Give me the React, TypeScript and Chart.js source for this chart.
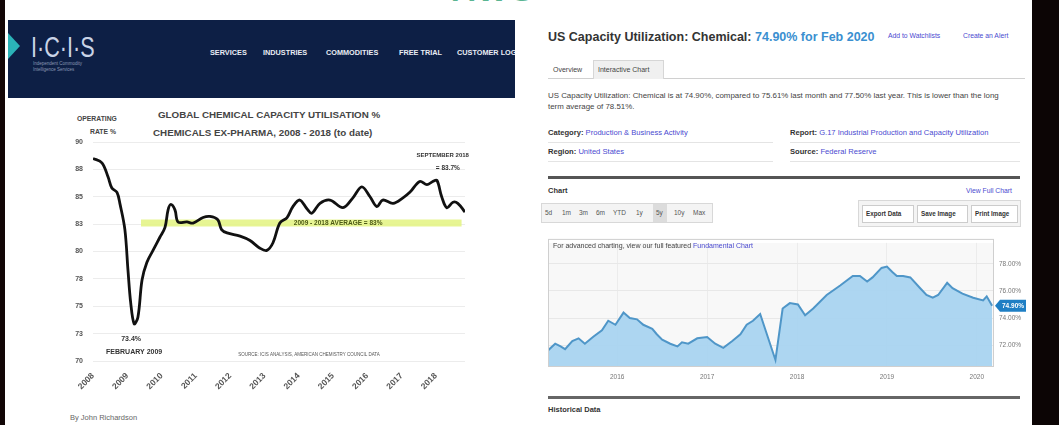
import React, { useEffect, useRef } from "react";
import { Chart, registerables } from "chart.js";

Chart.register(...registerables);
Chart.defaults.font.family = "'Liberation Sans', Arial, sans-serif";

// ---------- Left chart (ICIS) data ----------
const leftYears = [
  2008.0, 2008.26, 2008.44, 2008.55, 2008.7, 2008.79, 2008.93, 2009.02, 2009.1, 2009.2,
  2009.31, 2009.43, 2009.57, 2009.75, 2009.95, 2010.1, 2010.19, 2010.27, 2010.39, 2010.48,
  2010.74, 2010.92, 2011.21, 2011.41, 2011.64, 2011.75, 2011.91, 2012.29, 2012.58, 2012.87,
  2013.07, 2013.25, 2013.45, 2013.66, 2013.83, 2014.03, 2014.24, 2014.38, 2014.62, 2014.91,
  2015.29, 2015.58, 2015.84, 2016.08, 2016.28, 2016.45, 2016.75, 2017.04, 2017.24, 2017.53,
  2017.74, 2017.91, 2018.03, 2018.17, 2018.32, 2018.5, 2018.64, 2018.85,
];
const leftRates = [
  88.5, 88.1, 86.8, 85.8, 85.4, 84.3, 82.0, 78.3, 75.3, 73.4,
  74.0, 77.4, 79.0, 80.1, 81.3, 82.2, 83.8, 84.3, 83.8, 82.7,
  82.7, 82.6, 83.1, 83.2, 82.9, 82.0, 81.7, 81.4, 81.0, 80.3,
  80.1, 80.8, 82.6, 83.1, 84.1, 84.7, 83.9, 83.5, 84.4, 84.7,
  84.0, 84.9, 85.9, 85.0, 84.1, 84.7, 84.4, 84.9, 85.4, 86.4,
  86.1, 86.4, 86.5, 85.0, 84.0, 84.5, 84.4, 83.6,
];
const leftYearLabels = ["2008", "2009", "2010", "2011", "2012", "2013", "2014", "2015", "2016", "2017", "2018"];
const leftYTickValues = [70, 72.5, 75, 77.5, 80, 82.5, 85, 87.5, 90];
const leftYTickLabels = ["70", "73", "75", "78", "80", "83", "85", "88", "90"];
const averageSpan = [2009.4, 2018.75];
const averageRate = 82.6;

// ---------- Right chart (US capacity utilization) data ----------
const rightYears = [
  2015.23, 2015.31, 2015.37, 2015.42, 2015.5, 2015.57, 2015.64, 2015.73, 2015.83, 2015.9,
  2015.98, 2016.07, 2016.14, 2016.22, 2016.29, 2016.39, 2016.44, 2016.5, 2016.59, 2016.67,
  2016.72, 2016.79, 2016.89, 2017.0, 2017.09, 2017.18, 2017.28, 2017.37, 2017.44, 2017.51,
  2017.59, 2017.76, 2017.84, 2017.92, 2018.01, 2018.09, 2018.18, 2018.33, 2018.48, 2018.62,
  2018.7, 2018.78, 2018.84, 2018.94, 2019.0, 2019.06, 2019.11, 2019.18, 2019.26, 2019.37,
  2019.44, 2019.51, 2019.57, 2019.67, 2019.73, 2019.84, 2019.96, 2020.07, 2020.11, 2020.17,
];
const rightValues = [
  71.6, 72.1, 71.9, 71.7, 72.3, 72.5, 72.1, 72.6, 73.1, 73.8,
  73.5, 74.4, 74.0, 73.9, 73.5, 73.2, 72.8, 72.4, 72.1, 71.9,
  72.2, 72.1, 72.5, 72.6, 72.1, 71.8, 72.3, 72.8, 73.5, 73.8,
  74.3, 70.9, 74.7, 75.1, 75.0, 74.2, 74.7, 75.7, 76.4, 77.1,
  77.1, 76.7, 77.0, 77.7, 77.8, 77.4, 77.1, 77.1, 77.0, 76.2,
  75.7, 75.5, 75.7, 76.6, 76.2, 75.8, 75.5, 75.3, 75.6, 74.9,
];
const rightYearLabels = ["2016", "2017", "2018", "2019", "2020"];
const rightYTickValues = [72, 74, 76, 78];
const latestLabel = "74.90%";

function LeftChart() {
  const ref = useRef<HTMLCanvasElement>(null);
  useEffect(() => {
    const annot = {
      id: "leftAnnot",
      afterDatasetsDraw(chart: any) {
        const { ctx, scales } = chart;
        const xs = scales.x, ys = scales.y;
        ctx.save();
        ctx.textAlign = "center";
        ctx.textBaseline = "middle";
        ctx.fillStyle = "#333";
        ctx.font = "bold 7px 'Liberation Sans', Arial";
        const mx = xs.getPixelForValue(2009.2), my = ys.getPixelForValue(73.4);
        ctx.fillText("73.4%", mx - 3, my + 15);
        ctx.fillText("FEBRUARY 2009", mx, my + 28);
        ctx.font = "bold 6px 'Liberation Sans', Arial";
        ctx.fillText("SEPTEMBER 2018", xs.getPixelForValue(2018.2), ys.getPixelForValue(88.8));
        ctx.font = "bold 6.5px 'Liberation Sans', Arial";
        ctx.fillText("= 83.7%", xs.getPixelForValue(2018.35), ys.getPixelForValue(87.6));
        ctx.font = "bold 6.5px 'Liberation Sans', Arial";
        ctx.fillStyle = "#4d5a16";
        ctx.fillText("2009 - 2018 AVERAGE = 83%", xs.getPixelForValue(2015.15), ys.getPixelForValue(averageRate));
        ctx.font = "4.5px 'Liberation Sans', Arial";
        ctx.fillStyle = "#555";
        ctx.fillText("SOURCE: ICIS ANALYSIS, AMERICAN CHEMISTRY COUNCIL DATA", xs.getPixelForValue(2014.3), ys.getPixelForValue(70.6));
        ctx.restore();
      },
    };
    const chart = new Chart(ref.current!, {
      type: "line",
      data: {
        datasets: [
          {
            data: averageSpan.map((x) => ({ x, y: averageRate })),
            borderColor: "rgba(228,244,135,0.9)",
            borderWidth: 7,
            pointRadius: 0,
            borderCapStyle: "butt",
            order: 2,
          },
          {
            data: leftYears.map((x, i) => ({ x, y: leftRates[i] })),
            borderColor: "#111",
            borderWidth: 2.8,
            pointRadius: 0,
            tension: 0.35,
            order: 1,
          },
        ],
      },
      options: {
        animation: false,
        responsive: false,
        devicePixelRatio: 1,
        layout: { padding: { left: 0, right: 15, top: 42, bottom: 0 } },
        plugins: { legend: { display: false }, tooltip: { enabled: false } },
        scales: {
          x: {
            type: "linear",
            min: 2008,
            max: 2018.85,
            grid: { display: false },
            border: { display: false },
            afterBuildTicks: (s: any) => {
              s.ticks = leftYearLabels.map((l) => ({ value: Number(l) }));
            },
            ticks: {
              autoSkip: false,
              minRotation: 45,
              maxRotation: 45,
              padding: 2,
              color: "#555",
              font: { size: 8.5, weight: "bold" },
              callback: (_v: any, i: number) => leftYearLabels[i],
            },
            afterFit: (s: any) => {
              s.height = 39;
            },
          },
          y: {
            type: "linear",
            min: 70,
            max: 90,
            border: { display: false },
            grid: { color: "#ececec", drawTicks: false },
            afterBuildTicks: (s: any) => {
              s.ticks = leftYTickValues.map((v) => ({ value: v }));
            },
            ticks: {
              padding: 10,
              color: "#555",
              font: { size: 7, weight: "bold" },
              callback: (_v: any, i: number) => leftYTickLabels[i],
            },
            afterFit: (s: any) => {
              s.width = 53;
            },
          },
        },
      },
      plugins: [annot],
    } as any);
    return () => chart.destroy();
  }, []);
  return (
    <canvas
      ref={ref}
      width={440}
      height={300}
      style={{ position: "absolute", left: 40, top: 100, width: 440, height: 300 }}
    />
  );
}

function RightChart() {
  const ref = useRef<HTMLCanvasElement>(null);
  useEffect(() => {
    const bg = {
      id: "rightBg",
      beforeDraw(chart: any) {
        const { ctx, chartArea: a } = chart;
        ctx.save();
        ctx.fillStyle = "#f8f8f8";
        ctx.fillRect(a.left, a.top, a.right - a.left, a.bottom - a.top);
        ctx.restore();
      },
      afterDraw(chart: any) {
        const { ctx, chartArea: a, scales } = chart;
        const y = scales.y.getPixelForValue(rightValues[rightValues.length - 1]);
        ctx.save();
        ctx.strokeStyle = "#cfcfcf";
        ctx.lineWidth = 1;
        ctx.strokeRect(a.left + 0.5, a.top - 3.5, a.right - a.left, a.bottom - a.top + 3);
        const x0 = a.right + 2;
        ctx.fillStyle = "#1f7fc4";
        ctx.beginPath();
        ctx.moveTo(x0, y);
        ctx.lineTo(x0 + 5, y - 6);
        ctx.lineTo(x0 + 31, y - 6);
        ctx.lineTo(x0 + 31, y + 6);
        ctx.lineTo(x0 + 5, y + 6);
        ctx.closePath();
        ctx.fill();
        ctx.fillStyle = "#fff";
        ctx.font = "bold 6.5px 'Liberation Sans', Arial";
        ctx.textAlign = "center";
        ctx.textBaseline = "middle";
        ctx.fillText(latestLabel, x0 + 18, y);
        ctx.restore();
      },
    };
    const chart = new Chart(ref.current!, {
      type: "line",
      data: {
        datasets: [
          {
            data: rightYears.map((x, i) => ({ x, y: rightValues[i] })),
            borderColor: "#4f96c8",
            backgroundColor: "rgba(166,210,240,0.92)",
            fill: "start",
            borderWidth: 2,
            pointRadius: 0,
            tension: 0,
          },
        ],
      },
      options: {
        animation: false,
        responsive: false,
        devicePixelRatio: 1,
        layout: { padding: { left: 0, right: 0, top: 4, bottom: 0 } },
        plugins: { legend: { display: false }, tooltip: { enabled: false } },
        scales: {
          x: {
            type: "linear",
            min: 2015.23,
            max: 2020.18,
            border: { display: false },
            grid: { color: "#ececec", drawTicks: false },
            afterBuildTicks: (s: any) => {
              s.ticks = rightYearLabels.map((l) => ({ value: Number(l) }));
            },
            ticks: {
              autoSkip: false,
              maxRotation: 0,
              padding: 6,
              color: "#777",
              font: { size: 6.5 },
              callback: (_v: any, i: number) => rightYearLabels[i],
            },
            afterFit: (s: any) => {
              s.height = 15;
            },
          },
          y: {
            type: "linear",
            position: "right",
            min: 70.38,
            max: 79.55,
            border: { display: false },
            grid: { color: "#e8e8e8", drawTicks: false },
            afterBuildTicks: (s: any) => {
              s.ticks = rightYTickValues.map((v) => ({ value: v }));
            },
            ticks: {
              padding: 6,
              color: "#777",
              font: { size: 6.5 },
              callback: (v: any) => Number(v).toFixed(2) + "%",
            },
            afterFit: (s: any) => {
              s.width = 39;
            },
          },
        },
      },
      plugins: [bg],
    } as any);
    return () => chart.destroy();
  }, []);
  return (
    <canvas
      ref={ref}
      width={484}
      height={149}
      style={{ position: "absolute", left: 548, top: 233, width: 484, height: 149 }}
    />
  );
}

const T = ({ x, y, s, children, style }: any) => (
  <div
    style={{
      position: "absolute",
      left: x,
      top: y - s * 0.6,
      fontSize: s,
      lineHeight: 1.2,
      whiteSpace: "nowrap",
      fontFamily: "'Liberation Sans', Arial, sans-serif",
      ...style,
    }}
  >
    {children}
  </div>
);

const box = (x: number, y: number, w: number, h: number, style: any) => (
  <div style={{ position: "absolute", left: x, top: y, width: w, height: h, boxSizing: "border-box", ...style }} />
);

export default function App() {
  const blue = "#4a4ad0";
  const navItems: [string, number][] = [
    ["SERVICES", 210],
    ["INDUSTRIES", 263],
    ["COMMODITIES", 326],
    ["FREE TRIAL", 399],
    ["CUSTOMER LOGIN", 457],
  ];
  const ranges: [string, number][] = [
    ["5d", 545],
    ["1m", 562],
    ["3m", 579],
    ["6m", 596],
    ["YTD", 613],
    ["1y", 636],
    ["5y", 656],
    ["10y", 674],
    ["Max", 693],
  ];
  return (
    <div
      style={{
        position: "fixed",
        left: 0,
        top: 0,
        width: 1059,
        height: 425,
        background: "#fff",
        overflow: "hidden",
        color: "#333",
      }}
    >
      {/* dark side strips */}
      {box(0, 0, 5, 425, { background: "#120606" })}
      {box(1032, 0, 27, 425, { background: "#0c0505" })}
      {/* partial big heading at top */}
      <div
        style={{
          position: "absolute",
          left: 452,
          top: -28,
          fontSize: 32,
          fontWeight: "bold",
          color: "#5bb592",
          fontFamily: "'Liberation Sans', Arial",
          letterSpacing: 4,
        }}
      >
        AWS
      </div>

      {/* ICIS header */}
      {box(8, 20, 507, 78, { background: "#0d1f45", overflow: "hidden" })}
      <div
        style={{
          position: "absolute",
          left: 8,
          top: 33,
          width: 0,
          height: 0,
          borderTop: "13px solid transparent",
          borderBottom: "13px solid transparent",
          borderLeft: "12px solid #2bb3b8",
        }}
      />
      <T x={31} y={47} s={30} style={{ color: "#c9d3e6", fontWeight: 300, transform: "scaleX(0.72)", transformOrigin: "left center" }}>
        I·C·I·S
      </T>
      <T x={33} y={64} s={4.5} style={{ color: "#8a98b4" }}>
        Independent Commodity
      </T>
      <T x={33} y={70} s={4.5} style={{ color: "#8a98b4" }}>
        Intelligence Services
      </T>
      <div style={{ position: "absolute", left: 8, top: 20, width: 507, height: 78, overflow: "hidden" }}>
        {navItems.map(([t, x]) => (
          <T key={t} x={x - 8} y={33} s={7.3} style={{ color: "#e8ecf4", fontWeight: "bold" }}>
            {t}
          </T>
        ))}
      </div>

      {/* Left chart titles */}
      <T x={158} y={115} s={9.8} style={{ fontWeight: "bold", color: "#444" }}>
        GLOBAL CHEMICAL CAPACITY UTILISATION %
      </T>
      <T x={153} y={133} s={9.8} style={{ fontWeight: "bold", color: "#444" }}>
        CHEMICALS EX-PHARMA, 2008 - 2018 (to date)
      </T>
      <T x={77} y={119} s={6.8} style={{ fontWeight: "bold", color: "#444" }}>
        OPERATING
      </T>
      <T x={90} y={132} s={6.8} style={{ fontWeight: "bold", color: "#444" }}>
        RATE %
      </T>
      <LeftChart />
      <T x={70} y={417} s={7.5} style={{ color: "#666" }}>
        By John Richardson
      </T>

      {/* Right panel */}
      <T x={548} y={37} s={12.5} style={{ fontWeight: "bold", color: "#333" }}>
        US Capacity Utilization: Chemical:{" "}
        <span style={{ color: "#3a8fd0" }}>74.90% for Feb 2020</span>
      </T>
      <T x={888} y={36} s={6.8} style={{ color: blue }}>
        Add to Watchlists
      </T>
      <T x={963} y={36} s={6.8} style={{ color: blue }}>
        Create an Alert
      </T>
      {box(548, 78, 477, 1, { background: "#d0d0d0" })}
      {box(593, 60, 71, 19, { background: "#f0f0f0", border: "1px solid #d6d6d6", borderBottom: "none" })}
      <T x={553} y={70} s={7} style={{ color: "#444" }}>
        Overview
      </T>
      <T x={598} y={70} s={7} style={{ color: "#444" }}>
        Interactive Chart
      </T>
      <T x={548} y={96} s={7.9} style={{ color: "#444" }}>
        US Capacity Utilization: Chemical is at 74.90%, compared to 75.61% last month and 77.50% last year. This is lower than the long
      </T>
      <T x={548} y={107} s={7.9} style={{ color: "#444" }}>
        term average of 78.51%.
      </T>
      <T x={548} y={133} s={7.6} style={{ color: "#333" }}>
        <b>Category:</b> <span style={{ color: blue }}>Production &amp; Business Activity</span>
      </T>
      <T x={790} y={133} s={7.6} style={{ color: "#333" }}>
        <b>Report:</b> <span style={{ color: blue }}>G.17 Industrial Production and Capacity Utilization</span>
      </T>
      <T x={548} y={152} s={7.6} style={{ color: "#333" }}>
        <b>Region:</b> <span style={{ color: blue }}>United States</span>
      </T>
      <T x={790} y={152} s={7.6} style={{ color: "#333" }}>
        <b>Source:</b> <span style={{ color: blue }}>Federal Reserve</span>
      </T>
      {box(548, 142, 225, 1, { background: "#e4e4e4" })}
      {box(790, 142, 230, 1, { background: "#e4e4e4" })}
      {box(548, 161, 225, 1, { background: "#e4e4e4" })}
      {box(790, 161, 230, 1, { background: "#e4e4e4" })}
      {box(548, 176, 472, 3, { background: "#555" })}
      <T x={548} y={190} s={7.5} style={{ fontWeight: "bold", color: "#333" }}>
        Chart
      </T>
      <T x={966} y={191} s={6.8} style={{ color: blue }}>
        View Full Chart
      </T>
      {box(541, 203, 172, 20, { background: "#f4f4f4", border: "1px solid #d8d8d8" })}
      {box(653, 204, 14, 18, { background: "#dcdcdc" })}
      {ranges.map(([r, x]) => (
        <T key={r} x={x} y={213} s={6.5} style={{ color: "#555" }}>
          {r}
        </T>
      ))}
      {box(858, 200, 163, 27, { background: "#f4f4f4", border: "1px solid #d8d8d8" })}
      {box(862, 205, 52, 18, { background: "#fff", border: "1px solid #ccc" })}
      {box(917, 205, 51, 18, { background: "#fff", border: "1px solid #ccc" })}
      {box(971, 205, 47, 18, { background: "#fff", border: "1px solid #ccc" })}
      <T x={866} y={214} s={6.3} style={{ fontWeight: "bold", color: "#333" }}>
        Export Data
      </T>
      <T x={921} y={214} s={6.3} style={{ fontWeight: "bold", color: "#333" }}>
        Save Image
      </T>
      <T x={975} y={214} s={6.3} style={{ fontWeight: "bold", color: "#333" }}>
        Print Image
      </T>
      <RightChart />
      <T x={553} y={246} s={7} style={{ color: "#444" }}>
        For advanced charting, view our full featured <span style={{ color: blue }}>Fundamental Chart</span>
      </T>
      {box(548, 396, 472, 3, { background: "#666" })}
      <T x={548} y={409} s={7.5} style={{ fontWeight: "bold", color: "#333" }}>
        Historical Data
      </T>
    </div>
  );
}
